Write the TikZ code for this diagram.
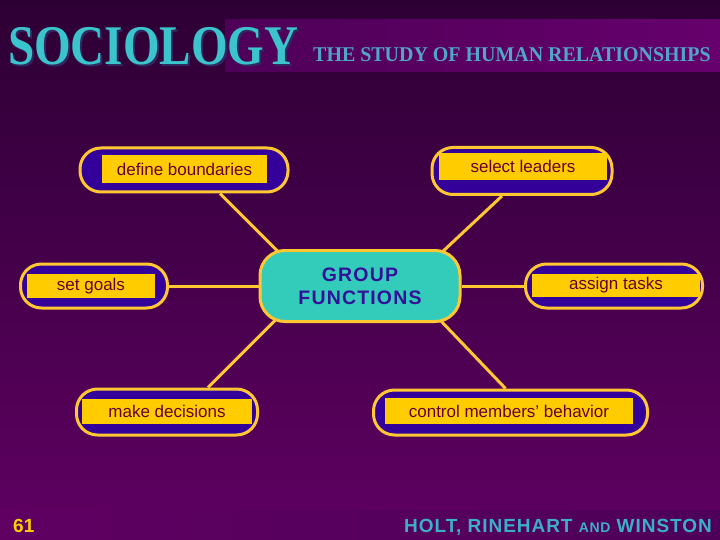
\documentclass[tikz,border=0pt]{standalone}
\usepackage{fontspec}
\setmainfont{Liberation Serif}
\setsansfont{Liberation Sans}
\usetikzlibrary{backgrounds}
\definecolor{bgtop}{RGB}{45,0,52}
\definecolor{bgbot}{RGB}{95,0,98}
\definecolor{bandL}{RGB}{78,0,88}
\definecolor{bandR}{RGB}{102,0,108}
\definecolor{capY}{RGB}{255,200,50}
\definecolor{capB}{RGB}{51,0,153}
\definecolor{labY}{RGB}{255,204,0}
\definecolor{labR}{RGB}{102,0,51}
\definecolor{tealc}{RGB}{51,204,187}
\definecolor{tblue}{RGB}{51,17,153}
\definecolor{titc}{RGB}{60,196,204}
\definecolor{titsh}{RGB}{50,40,95}
\definecolor{subc}{RGB}{80,165,200}
\definecolor{holtc}{RGB}{60,175,200}
\tikzset{
  capsule/.style={draw=capY, line width=3pt, fill=capB, inner sep=0pt, rounded corners=21pt},
  labbox/.style={fill=labY, text=labR, inner sep=0pt, font=\sffamily\fontsize{17}{20}\selectfont},
  conn/.style={draw=capY, line width=3pt},
}
\begin{document}
\begin{tikzpicture}[x=1pt,y=-1pt]
\useasboundingbox (0,0) rectangle (720,540);
% background
\begin{scope}[on background layer]
\shade[top color=bgtop, bottom color=bgbot] (0,0) rectangle (720,540);
\shade[left color=bandL, right color=bandR] (225,20) rectangle (720,72);
\shade[left color=bgbot, right color=bandL] (0,510) rectangle (720,540);
\end{scope}
% titles
\node[anchor=base west, inner sep=0, text=titsh, font=\bfseries\fontsize{56}{60}\selectfont, xscale=0.84] (tsh) at (10,67) {SOCIOLOGY};
\node[anchor=base west, inner sep=0, text=titc, font=\bfseries\fontsize{56}{60}\selectfont, xscale=0.84] (tit) at (8,65) {SOCIOLOGY};
\node[anchor=base west, inner sep=0, text=subc, font=\bfseries\fontsize{21}{24}\selectfont, xscale=0.95] (sub) at (313,62) {THE STUDY OF HUMAN RELATIONSHIPS};
% center
\node[draw=capY, line width=3pt, fill=tealc, rounded corners=25pt, minimum width=200pt, minimum height=71pt, inner sep=0pt,
      text=tblue, font=\sffamily\bfseries\fontsize{19.5}{23}\selectfont\addfontfeatures{LetterSpace=6}, align=center] (c) at (360,286) {GROUP\\FUNCTIONS};
% outer capsules
\node[capsule, minimum width=208pt, minimum height=44pt] (db) at (184,170) {};
\node[labbox, minimum width=165pt, minimum height=28pt] (dbt) at (184.5,169) {define boundaries};
\node[capsule, minimum width=180pt, minimum height=47pt] (sl) at (522,171) {};
\node[labbox, minimum width=168pt, minimum height=27pt] (slt) at (523,166.5) {select leaders};
\node[capsule, minimum width=147pt, minimum height=44pt] (sg) at (94,286) {};
\node[labbox, minimum width=128pt, minimum height=24pt] (sgt) at (91,286) {set goals};
\node[capsule, minimum width=177pt, minimum height=44pt] (at) at (614,286) {};
\node[labbox, minimum width=168pt, minimum height=23pt] (att) at (616,285) {assign tasks};
\node[capsule, minimum width=181pt, minimum height=46pt] (md) at (167,412) {};
\node[labbox, minimum width=170pt, minimum height=25pt] (mdt) at (167,411) {make decisions};
\node[capsule, minimum width=274pt, minimum height=45pt] (cm) at (510.5,412.5) {};
\node[labbox, minimum width=248pt, minimum height=26pt] (cmt) at (509,411) {control members’ behavior};
% connectors
\begin{scope}[on background layer]
\draw[conn] ([xshift=36pt]db.south) -- ([xshift=30pt,yshift=-13pt]c.north west);
\draw[conn] ([xshift=-20pt]sl.south) -- ([xshift=-30pt,yshift=-13pt]c.north east);
\draw[conn] (sg.east) -- (sg.east -| c.west);
\draw[conn] (at.west) -- (at.west -| c.east);
\draw[conn] ([xshift=41pt]md.north) -- ([xshift=27pt,yshift=13pt]c.south west);
\draw[conn] ([xshift=-5pt]cm.north) -- ([xshift=-32pt,yshift=14pt]c.south east);
\end{scope}
% footer
\node[anchor=base west, inner sep=0, text=labY, font=\sffamily\bfseries\fontsize{19}{22}\selectfont] (pg) at (13,532) {61};
\node[anchor=base east, inner sep=0, text=holtc, font=\sffamily\bfseries\fontsize{19}{22}\selectfont\addfontfeatures{LetterSpace=5}] (holt) at (712,532) {HOLT, RINEHART {\fontsize{14}{16}\selectfont AND} WINSTON};
\end{tikzpicture}
\end{document}
